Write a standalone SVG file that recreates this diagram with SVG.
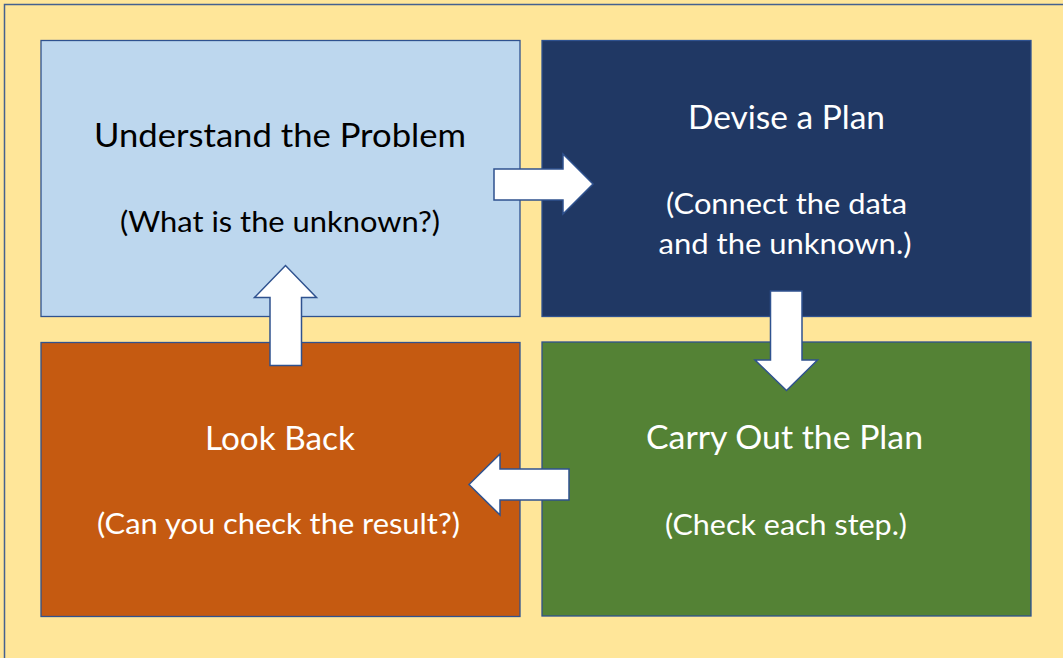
<svg xmlns="http://www.w3.org/2000/svg" width="1063" height="658" viewBox="0 0 1063 658">
  <style>
    .panel { stroke: #2F528F; stroke-width: 1.3; }
    .arrow { fill: #FFFFFF; stroke: #2F528F; stroke-width: 1.5; stroke-linejoin: miter; }
    text { font-family: Lato, "Open Sans", "Liberation Sans", sans-serif; text-anchor: middle; }
    .title { font-size: 32.5px; }
    .sub { font-size: 29px; }
    .dark { fill: #000000; }
    .light { fill: #FFFFFF; }
  </style>

  <!-- page background with frame -->
  <rect x="0" y="0" width="1063" height="658" fill="#FFE699"/>
  <rect x="4.5" y="4.5" width="1080" height="680" fill="#FFE699" stroke="#44618F" stroke-width="1.5"/>

  <g id="understand">
    <rect class="panel" x="41" y="40.5" width="479" height="276" fill="#BDD7EE"/>
    <text class="title dark" x="280" y="146.5" textLength="372" lengthAdjust="spacingAndGlyphs">Understand the Problem</text>
    <text class="sub dark" x="280" y="232" textLength="320" lengthAdjust="spacingAndGlyphs">(What is the unknown?)</text>
  </g>

  <g id="devise">
    <rect class="panel" x="542" y="40.5" width="489" height="276" fill="#203864"/>
    <text class="title light" x="786.5" y="128.5" textLength="197" lengthAdjust="spacingAndGlyphs">Devise a Plan</text>
    <text class="sub light" x="786.5" y="214" textLength="241" lengthAdjust="spacingAndGlyphs">(Connect the data</text>
    <text class="sub light" x="785" y="254" textLength="253" lengthAdjust="spacingAndGlyphs">and the unknown.)</text>
  </g>

  <g id="look-back">
    <rect class="panel" x="41" y="342.5" width="479" height="274" fill="#C55A11"/>
    <text class="title light" x="280" y="450" textLength="150" lengthAdjust="spacingAndGlyphs">Look Back</text>
    <text class="sub light" x="278.5" y="533.5" textLength="363" lengthAdjust="spacingAndGlyphs">(Can you check the result?)</text>
  </g>

  <g id="carry-out">
    <rect class="panel" x="542" y="342" width="489" height="274" fill="#548235"/>
    <text class="title light" x="784.5" y="448.5" textLength="277" lengthAdjust="spacingAndGlyphs">Carry Out the Plan</text>
    <text class="sub light" x="786" y="535" textLength="242" lengthAdjust="spacingAndGlyphs">(Check each step.)</text>
  </g>

  <!-- block arrows between the four stages -->
  <g id="connectors">
    <polygon class="arrow" points="494,169 563,169 563,154 593,184 563,214 563,200 494,200"/>
    <polygon class="arrow" points="770.5,291 802,291 802,360 817.5,360 786.5,390.5 755,360 770.5,360"/>
    <polygon class="arrow" points="569,469 500,469 500,454 469,484.5 500,515 500,500 569,500"/>
    <polygon class="arrow" points="270,365.5 301.5,365.5 301.5,297.5 316.5,297.5 285.5,265.5 254.5,297.5 270,297.5"/>
  </g>
</svg>
